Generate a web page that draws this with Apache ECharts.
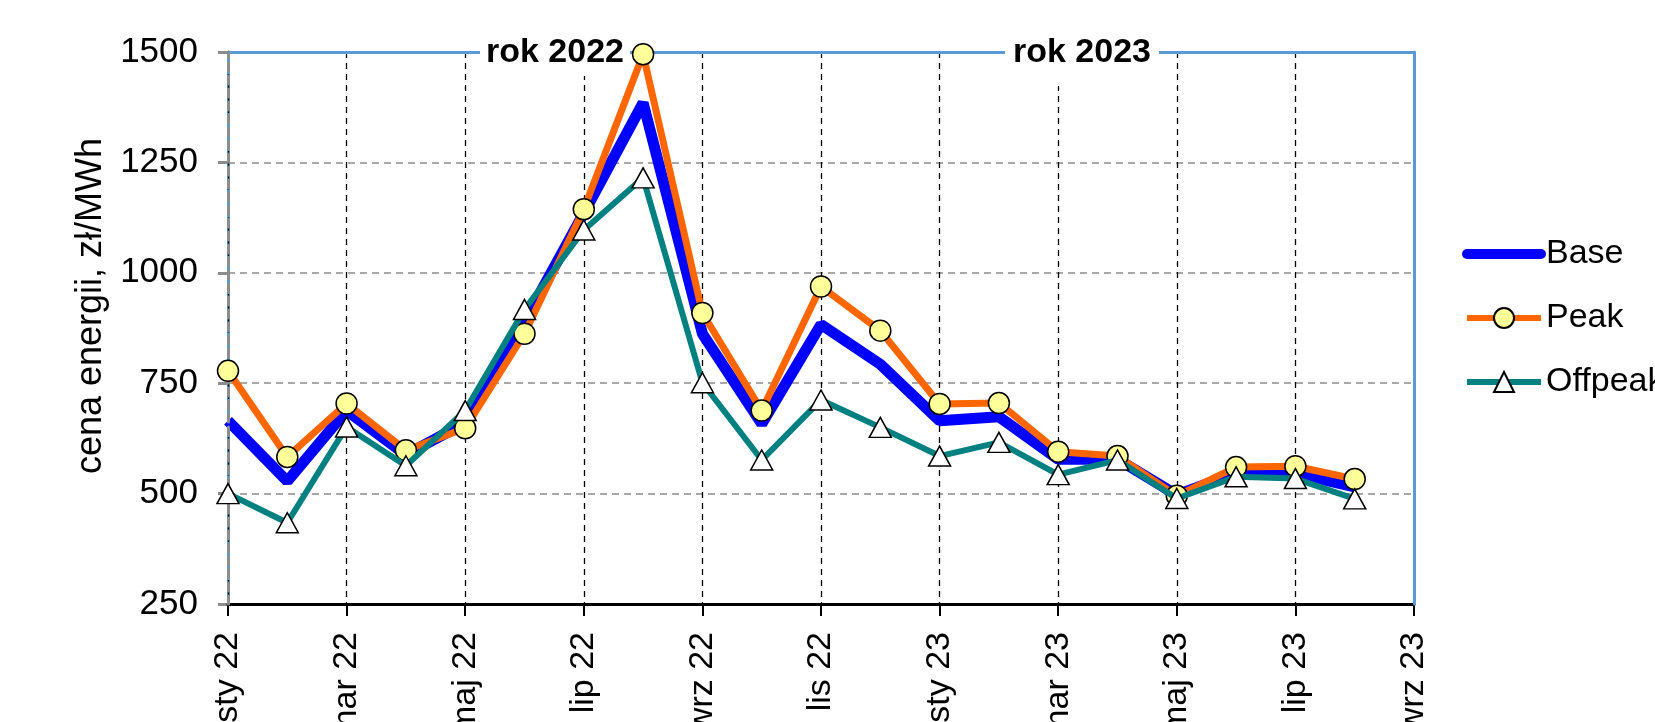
<!DOCTYPE html>
<html>
<head>
<meta charset="utf-8">
<script src="https://cdn.jsdelivr.net/npm/echarts@6/dist/echarts.min.js"></script>
<style>
html,body{margin:0;padding:0;background:#fff;}
#chart{width:1655px;height:722px;}
</style>
</head>
<body>
<div id="chart"></div>
<script>
const categories = ['sty 22','lut 22','mar 22','kwi 22','maj 22','cze 22','lip 22','sie 22','wrz 22','paź 22','lis 22','gru 22',
  'sty 23','lut 23','mar 23','kwi 23','maj 23','cze 23','lip 23','sie 23','wrz 23'];
const base    = [665, 528, 688, 588, 660, 890, 1135, 1385, 862, 658, 883, 793, 665, 674, 578, 578, 497, 546, 546, 515];
const peak    = [778, 583, 704, 598, 648, 862, 1144, 1495, 909, 688, 969, 869, 703, 705, 595, 585, 495, 560, 562, 533];
const offpeak = [500, 434, 651, 563, 688, 917, 1097, 1215, 751, 576, 712, 650, 585, 616, 543, 576, 489, 538, 534, 488];
const yearLabels = ['rok 2022', 'rok 2023'];
const yTicks = {min: 250, max: 1500, interval: 250};

const FONT = '"Liberation Sans", Arial, sans-serif';
const BORDER = '#5B9BD5';
const chart = echarts.init(document.getElementById('chart'));
chart.setOption({
  animation: false,
  backgroundColor: '#ffffff',
  textStyle: {fontFamily: FONT},
  grid: {left: 228, right: 241, top: 52, bottom: 118, containLabel: false, outerBoundsMode: 'none'},
  legend: {
    orient: 'vertical', left: 1462, top: 237, padding: 0, itemWidth: 74, itemHeight: 25, itemGap: 30,
    textStyle: {fontFamily: FONT, fontSize: 34, color: '#000'},
    data: [
      {name: 'Base', itemStyle: {opacity: 0}, lineStyle: {width: 10, cap: 'round'}},
      {name: 'Peak', lineStyle: {width: 6}},
      {name: 'Offpeak', lineStyle: {width: 6}}
    ]
  },
  xAxis: [
    {
      type: 'category', data: categories, boundaryGap: false, z: 1,
      axisLine: {lineStyle: {color: '#000', width: 3}},
      axisTick: {show: true, interval: 1, length: 12, lineStyle: {color: '#000', width: 2}},
      axisLabel: {interval: 1, rotate: 90, margin: 28, fontSize: 34, color: '#000', fontFamily: FONT},
      splitLine: {show: true, interval: 1, lineStyle: {color: '#000', type: [6, 5], width: 1.3}}
    },
    {
      type: 'category', data: categories, boundaryGap: false, position: 'top', z: 2,
      axisLine: {show: true, lineStyle: {color: BORDER, width: 3}},
      axisTick: {show: false}, axisLabel: {show: false}, splitLine: {show: false}
    }
  ],
  yAxis: [
    {
      type: 'value', min: yTicks.min, max: yTicks.max, interval: yTicks.interval, position: 'left',
      name: 'cena energii, zł/MWh', nameLocation: 'middle', nameGap: 119, nameRotate: 90,
      nameTextStyle: {fontSize: 36, color: '#000', fontFamily: FONT, padding: [0, 0, 0, 44]},
      axisLine: {show: true, lineStyle: {color: BORDER, width: 3}},
      axisTick: {show: true, length: 10, lineStyle: {color: '#8c8c8c', width: 3}},
      axisLabel: {margin: 30, fontSize: 35, color: '#000', fontFamily: FONT, formatter: v => String(v)},
      splitLine: {show: true, lineStyle: {color: '#8c8c8c', type: [7, 5], width: 1.5}}
    },
    {
      type: 'value', min: yTicks.min, max: yTicks.max, interval: yTicks.interval, position: 'right', z: 2,
      axisLine: {show: true, lineStyle: {color: BORDER, width: 3}},
      axisTick: {show: false}, axisLabel: {show: false}, splitLine: {show: false}
    },
    {
      type: 'value', min: yTicks.min, max: yTicks.max, interval: yTicks.interval, position: 'left', offset: 0, z: 3,
      axisLine: {show: true, lineStyle: {color: '#8c8c8c', width: 3, type: [8, 5]}},
      axisTick: {show: false}, axisLabel: {show: false}, splitLine: {show: false}
    }
  ],
  graphic: [
    {type: 'text', z: 100, left: 480, top: 34, style: {text: yearLabels[0], font: 'bold 34px ' + FONT, fill: '#000', backgroundColor: '#fff', padding: [2, 6, 6, 6]}},
    {type: 'text', z: 100, left: 1005, top: 34, style: {text: yearLabels[1], font: 'bold 34px ' + FONT, fill: '#000', backgroundColor: '#fff', padding: [2, 8, 16, 8]}}
  ],
  series: [
    {name: 'Base', type: 'line', data: base, symbol: 'none',
     lineStyle: {color: '#0000FF', width: 11}, itemStyle: {color: '#0000FF'}, z: 2},
    {name: 'Peak', type: 'line', data: peak, symbol: 'circle', symbolSize: 21,
     lineStyle: {color: '#FF6600', width: 7},
     itemStyle: {color: '#FFFF99', borderColor: '#000', borderWidth: 1.5}, z: 3},
    {name: 'Offpeak', type: 'line', data: offpeak, symbol: 'triangle', symbolSize: [22, 20],
     lineStyle: {color: '#008080', width: 6},
     itemStyle: {color: '#FFFFFF', borderColor: '#000', borderWidth: 1.5}, z: 4}
  ]
});
</script>
</body>
</html>
